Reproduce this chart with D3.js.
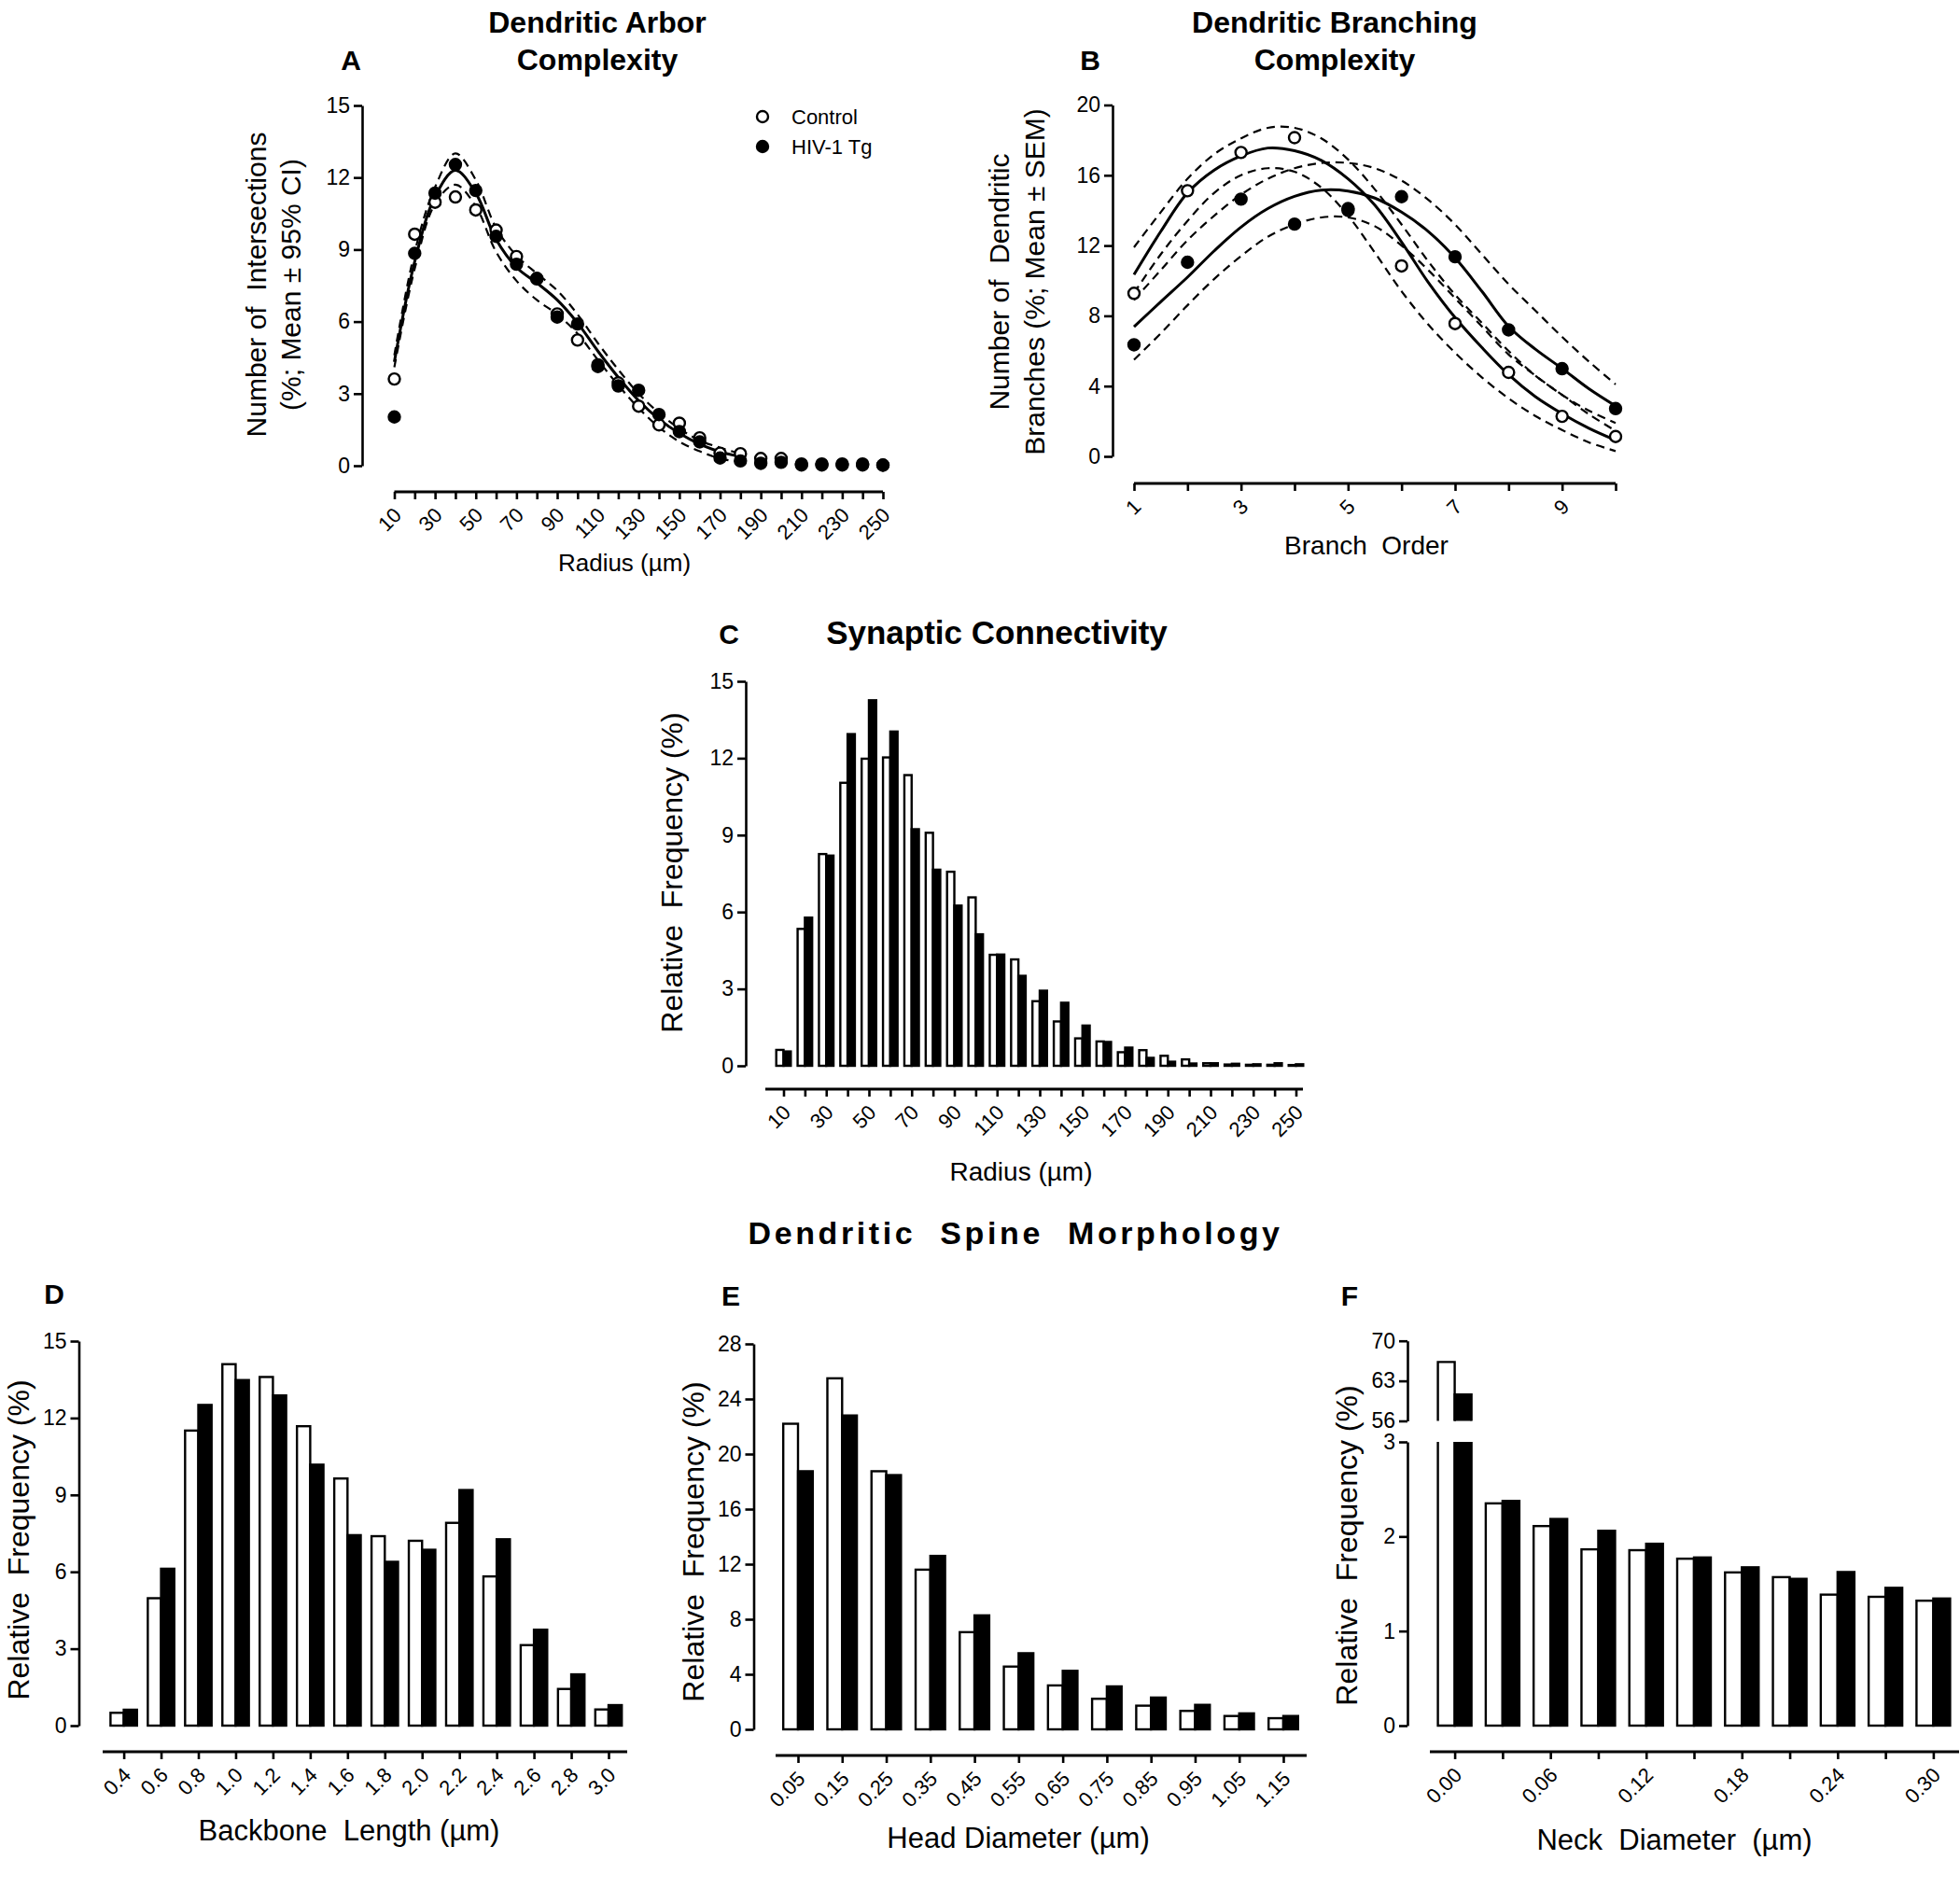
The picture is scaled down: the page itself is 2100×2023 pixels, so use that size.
<!DOCTYPE html>
<html><head><meta charset="utf-8">
<script src="https://cdn.jsdelivr.net/npm/d3@7"></script>
<style>body{margin:0;background:#fff}svg{display:block}</style>
</head><body><svg id="c" width="2100" height="2023"></svg>
<script>
// ---------- DATA ----------
// Panel A: Sholl analysis
const radiusA = [10,20,30,40,50,60,70,80,90,100,110,120,130,140,150,160,170,180,190,200,210,220,230,240,250];
const controlA = [3.61,9.64,10.97,11.19,10.65,9.81,8.71,7.8,6.32,5.23,4.2,3.45,2.48,1.70,1.77,1.16,0.52,0.5,0.3,0.3,0.03,0.03,0.03,0.03,0.02];
const hivA = [2.03,8.84,11.35,12.54,11.46,9.55,8.39,7.78,6.19,5.9,4.13,3.32,3.14,2.13,1.42,0.99,0.32,0.2,0.1,0.14,0.07,0.07,0.07,0.07,0.03];
const fitA = [[10,4.32],[20,8.5],[30,11.2],[40,12.3],[50,11.35],[60,9.42],[70,8.26],[80,7.61],[90,6.9],[100,5.94],[110,4.77],[120,3.68],[130,2.71],[140,1.94],[150,1.35],[160,0.9],[170,0.58],[180,0.38]];
const fitAUpper = [[10,4.6],[20,8.9],[30,11.6],[40,13.0],[50,11.9],[60,9.9],[70,8.75],[80,8.0],[90,7.3],[100,6.3],[110,5.1],[120,4.0],[130,3.0],[140,2.2],[150,1.55],[160,1.05],[170,0.75],[180,0.5]];
const fitALower = [[10,4.1],[20,8.2],[30,10.9],[40,11.7],[50,10.8],[60,8.9],[70,7.7],[80,6.9],[90,6.3],[100,5.5],[110,4.4],[120,3.35],[130,2.4],[140,1.6],[150,1.0],[160,0.6],[170,0.3],[180,0.15]];
const yTicksA = [0,3,6,9,12,15];

// Panel B: branch order
const branchOrder = [1,2,3,4,5,6,7,8,9,10];
const controlB = [9.28,15.12,17.3,18.14,14.0,10.84,7.56,4.78,2.28,1.13];
const hivB = [6.35,11.05,14.64,13.22,14.1,14.78,11.36,7.2,4.99,2.72];
const fitBControl = [[1,10.34],[1.5,12.8],[2,15.0],[2.5,16.3],[3,17.1],[3.5,17.55],[4,17.4],[4.5,16.85],[5,15.8],[5.5,14.3],[6,12.2],[6.5,9.9],[7,7.9],[7.5,6.2],[8,4.65],[8.5,3.4],[9,2.43],[9.5,1.6],[10,0.92]];
const fitBControlUp = [[1,11.9],[1.5,13.9],[2,15.8],[2.5,17.2],[3,18.1],[3.5,18.7],[4,18.7],[4.5,18.1],[5,16.9],[5.5,15.2],[6,13.2],[6.5,11.1],[7,9.2],[7.5,7.6],[8,6.0],[8.5,4.6],[9,3.5],[9.5,2.4],[10,1.45]];
const fitBControlLo = [[1,9.3],[1.5,11.5],[2,13.4],[2.5,15.0],[3,16.0],[3.5,16.4],[4,16.2],[4.5,15.3],[5,13.7],[5.5,11.6],[6,9.4],[6.5,7.5],[7,5.9],[7.5,4.5],[8,3.3],[8.5,2.3],[9,1.5],[9.5,0.8],[10,0.3]];
const fitBHiv = [[1,7.38],[1.5,8.8],[2,10.2],[2.5,11.7],[3,13.05],[3.5,14.1],[4,14.8],[4.5,15.15],[5,15.1],[5.5,14.7],[6,13.9],[6.5,12.8],[7,11.3],[7.5,9.4],[8,7.4],[8.5,6.1],[9,5.0],[9.5,3.85],[10,2.87]];
const fitBHivUp = [[1,8.9],[1.5,10.6],[2,12.3],[2.5,13.7],[3,14.9],[3.5,15.8],[4,16.4],[4.5,16.7],[5,16.7],[5.5,16.4],[6,15.7],[6.5,14.6],[7,13.2],[7.5,11.5],[8,9.8],[8.5,8.3],[9,6.8],[9.5,5.4],[10,4.1]];
const fitBHivLo = [[1,5.5],[1.5,7.0],[2,8.6],[2.5,10.1],[3,11.4],[3.5,12.5],[4,13.2],[4.5,13.6],[5,13.6],[5.5,13.1],[6,12.0],[6.5,10.6],[7,9.0],[7.5,7.4],[8,5.8],[8.5,4.6],[9,3.5],[9.5,2.6],[10,1.9]];
const yTicksB = [0,4,8,12,16,20];

// Panel C: synaptic connectivity
const radiusC = [10,20,30,40,50,60,70,80,90,100,110,120,130,140,150,160,170,180,190,200,210,220,230,240,250];
const controlC = [0.62,5.34,8.26,11.04,11.98,12.03,11.34,9.09,7.57,6.57,4.33,4.15,2.52,1.73,1.07,0.95,0.53,0.61,0.39,0.25,0.1,0.05,0.04,0.04,0.03];
const hivC = [0.56,5.78,8.2,12.94,14.26,13.04,9.23,7.65,6.25,5.13,4.34,3.51,2.93,2.46,1.57,0.93,0.71,0.31,0.16,0.09,0.1,0.08,0.06,0.1,0.06];
const yTicksC = [0,3,6,9,12,15];

// Panel D: backbone length
const backboneD = ["0.4","0.6","0.8","1.0","1.2","1.4","1.6","1.8","2.0","2.2","2.4","2.6","2.8","3.0"];
const controlD = [0.5,4.97,11.51,14.1,13.6,11.68,9.64,7.39,7.21,7.91,5.82,3.14,1.43,0.63];
const hivD = [0.62,6.12,12.51,13.48,12.88,10.18,7.43,6.39,6.86,9.19,7.27,3.74,2.0,0.8];
const yTicksD = [0,3,6,9,12,15];

// Panel E: head diameter
const headE = ["0.05","0.15","0.25","0.35","0.45","0.55","0.65","0.75","0.85","0.95","1.05","1.15"];
const controlE = [22.2,25.5,18.75,11.6,7.06,4.56,3.19,2.22,1.72,1.34,0.97,0.81];
const hivE = [18.75,22.8,18.47,12.6,8.28,5.53,4.25,3.12,2.31,1.78,1.16,0.97];
const yTicksE = [0,4,8,12,16,20,24,28];

// Panel F: neck diameter (broken axis)
const neckF = ["0.00","0.03","0.06","0.09","0.12","0.15","0.18","0.21","0.24","0.27","0.30"];
const controlF = [66.3,2.35,2.11,1.864,1.855,1.765,1.62,1.57,1.385,1.362,1.321];
const hivF = [60.6,2.376,2.185,2.06,1.923,1.778,1.674,1.552,1.624,1.457,1.344];
const yTicksFLow = [0,1,2,3];
const yTicksFHigh = [56,63,70];

// ---------- DRAWING ----------
const FONT = '"Liberation Sans", Arial, Helvetica, sans-serif';
const svg = d3.select("#c");
svg.append("rect").attr("width",2100).attr("height",2023).attr("fill","#fff");

function txt(x,y,s,size,opts={}){
  const t = svg.append("text").attr("x",x).attr("y",y).text(s)
    .attr("font-family",FONT).attr("font-size",size).attr("fill","#000")
    .attr("text-anchor",opts.anchor||"middle").style("white-space","pre");
  if(opts.bold) t.attr("font-weight","bold");
  if(opts.rot) t.attr("transform",`rotate(${opts.rot},${x},${y})`);
  if(opts.ls) t.attr("letter-spacing",opts.ls);
  return t;
}

function yAxis(x, scale, ticks){
  const g = svg.append("g").attr("transform",`translate(${x},0)`)
    .call(d3.axisLeft(scale).tickValues(ticks).tickSize(9).tickSizeOuter(0).tickPadding(4).tickFormat(d3.format("d")));
  g.attr("font-family",FONT).attr("font-size",23);
  g.select(".domain").attr("stroke-width",2.6);
  g.selectAll(".tick line").attr("stroke-width",2.6);
  return g;
}

function xAxis(y, scale, vals, isLabeled, ext, tickLen){
  const g = svg.append("g").attr("transform",`translate(0,${y})`)
    .call(d3.axisBottom(scale).tickValues(vals).tickSize(tickLen||8).tickSizeOuter(0)
      .tickFormat((d,i)=> isLabeled(i) ? d : ""));
  g.attr("font-family",FONT).attr("font-size",22);
  g.select(".domain").remove();
  g.append("line").attr("x1",ext[0]).attr("x2",ext[1]).attr("y1",0).attr("y2",0)
    .attr("stroke","#000").attr("stroke-width",2.8);
  g.selectAll(".tick line").attr("stroke-width",2.6);
  g.selectAll(".tick text").attr("y",0).attr("dy","0.35em")
    .attr("transform","translate(3,21) rotate(-45)").attr("text-anchor","end");
  return g;
}

function curve(data, xs, ys, dashed){
  const line = d3.line().x(d=>xs(d[0])).y(d=>ys(d[1])).curve(d3.curveCatmullRom.alpha(0.5));
  svg.append("path").attr("d",line(data)).attr("fill","none").attr("stroke","#000")
    .attr("stroke-width",dashed?2.2:3).attr("stroke-dasharray",dashed?"9,6":null);
}

function points(xv, yv, xs, ys, filled, r){
  svg.append("g").selectAll("circle").data(xv).join("circle")
    .attr("cx",(d)=>xs(d)).attr("cy",(d,i)=>ys(yv[i])).attr("r",r)
    .attr("fill",filled?"#000":"#fff").attr("stroke","#000").attr("stroke-width",2.4);
}

function bars(cats, ctrl, hiv, xs, ys, w){
  const g = svg.append("g");
  g.selectAll("rect.c").data(cats).join("rect").attr("class","c")
    .attr("x",d=>xs(d)-w).attr("width",w)
    .attr("y",(d,i)=>ys(ctrl[i])).attr("height",(d,i)=>ys(0)-ys(ctrl[i]))
    .attr("fill","#fff").attr("stroke","#000").attr("stroke-width",2.4);
  g.selectAll("rect.h").data(cats).join("rect").attr("class","h")
    .attr("x",d=>xs(d)).attr("width",w)
    .attr("y",(d,i)=>ys(hiv[i])).attr("height",(d,i)=>Math.max(0,ys(0)-ys(hiv[i])))
    .attr("fill","#000").attr("stroke","#000").attr("stroke-width",2.4);
}

// ===== Panel A =====
{
  const xs = d3.scaleLinear().domain([10,250]).range([422.5,946]);
  const ys = d3.scaleLinear().domain([0,15]).range([499,113]);
  txt(640,35,"Dendritic Arbor",32,{bold:true});
  txt(640,75,"Complexity",32,{bold:true});
  txt(376,75,"A",30,{bold:true});
  yAxis(388, ys, yTicksA);
  xAxis(527, xs, radiusA, i=>i%2===0, [xs(10),xs(250)], 8);
  txt(669,612,"Radius (\u00b5m)",26);
  txt(285,305,"Number of  Intersections",30,{rot:-90});
  txt(322,305,"(%; Mean \u00b1 95% CI)",30,{rot:-90});
  curve(fitAUpper,xs,ys,true);
  curve(fitALower,xs,ys,true);
  curve(fitA,xs,ys,false);
  points(radiusA,controlA,xs,ys,false,6);
  points(radiusA,hivA,xs,ys,true,6);
  // legend
  svg.append("circle").attr("cx",817).attr("cy",125).attr("r",6).attr("fill","#fff").attr("stroke","#000").attr("stroke-width",2.4);
  svg.append("circle").attr("cx",817).attr("cy",157).attr("r",6).attr("fill","#000").attr("stroke","#000").attr("stroke-width",2.4);
  txt(848,133,"Control",22,{anchor:"start"});
  txt(848,165,"HIV-1 Tg",22,{anchor:"start"});
}

// ===== Panel B =====
{
  const xs = d3.scaleLinear().domain([1,10]).range([1215,1731]);
  const ys = d3.scaleLinear().domain([0,20]).range([489,112.5]);
  txt(1430,35,"Dendritic Branching",32,{bold:true});
  txt(1430,75,"Complexity",32,{bold:true});
  txt(1168,75,"B",30,{bold:true});
  yAxis(1192, ys, yTicksB);
  xAxis(518, xs, branchOrder, i=>i%2===0, [xs(1),xs(10)], 8);
  txt(1464,594,"Branch  Order",28);
  txt(1081,302,"Number of  Dendritic",30,{rot:-90});
  txt(1119,302,"Branches (%; Mean \u00b1 SEM)",30,{rot:-90});
  [fitBControlUp,fitBControlLo,fitBHivUp,fitBHivLo].forEach(d=>curve(d,xs,ys,true));
  curve(fitBControl,xs,ys,false);
  curve(fitBHiv,xs,ys,false);
  points(branchOrder,controlB,xs,ys,false,6);
  points(branchOrder,hivB,xs,ys,true,6);
}

// ===== Panel C =====
{
  const xs = d3.scaleLinear().domain([10,250]).range([839.5,1388.5]);
  const ys = d3.scaleLinear().domain([0,15]).range([1142,730]);
  txt(1068,690,"Synaptic Connectivity",35,{bold:true});
  txt(781,690,"C",30,{bold:true});
  yAxis(799, ys, yTicksC);
  xAxis(1167, xs, radiusC, i=>i%2===0, [820,1396], 8);
  txt(1094,1265,"Radius (\u00b5m)",28);
  txt(731,935,"Relative  Frequency (%)",32,{rot:-90});
  bars(radiusC,controlC,hivC,xs,ys,7.8);
}

// ===== Section title =====
txt(1088,1333,"Dendritic  Spine  Morphology",34,{bold:true,ls:3.6});

// ===== Panel D =====
{
  const xs = d3.scalePoint().domain(backboneD).range([132.6,652]);
  const ys = d3.scaleLinear().domain([0,15]).range([1849,1437]);
  txt(58,1397,"D",30,{bold:true});
  yAxis(84.5, ys, yTicksD);
  xAxis(1877, xs, backboneD, ()=>true, [110,672], 8);
  txt(374,1972,"Backbone  Length (\u00b5m)",31);
  txt(31,1650,"Relative  Frequency (%)",32,{rot:-90});
  bars(backboneD,controlD,hivD,xs,ys,14.2);
}

// ===== Panel E =====
{
  const xs = d3.scalePoint().domain(headE).range([855,1375]);
  const ys = d3.scaleLinear().domain([0,28]).range([1853,1440]);
  txt(783,1399,"E",30,{bold:true});
  yAxis(807.5, ys, yTicksE);
  xAxis(1881, xs, headE, ()=>true, [831,1400], 8);
  txt(1091,1980,"Head Diameter (\u00b5m)",31);
  txt(754,1652,"Relative  Frequency (%)",32,{rot:-90});
  bars(headE,controlE,hivE,xs,ys,15.8);
}

// ===== Panel F (broken y axis) =====
{
  const xs = d3.scalePoint().domain(neckF).range([1558.6,2071.4]);
  const yLow = d3.scaleLinear().domain([0,3]).range([1849,1545]);
  const yHigh = d3.scaleLinear().domain([56,70]).range([1522.5,1436.7]);
  const w = 18;
  txt(1446,1399,"F",30,{bold:true});
  yAxis(1508, yLow, yTicksFLow);
  yAxis(1508, yHigh, yTicksFHigh);
  xAxis(1877, xs, neckF, i=>i%2===0, [1532,2099], 8);
  txt(1794,1982,"Neck  Diameter  (\u00b5m)",31);
  txt(1454,1656,"Relative  Frequency (%)",32,{rot:-90});
  const g = svg.append("g");
  neckF.forEach((c,i)=>{
    [[controlF[i],xs(c)-w,"#fff"],[hivF[i],xs(c),"#000"]].forEach(([v,x0,fill])=>{
      const x1 = x0+w;
      if(v<=3){
        g.append("rect").attr("x",x0).attr("width",w).attr("y",yLow(v)).attr("height",yLow(0)-yLow(v))
          .attr("fill",fill).attr("stroke","#000").attr("stroke-width",2.4);
      } else {
        g.append("rect").attr("x",x0).attr("width",w).attr("y",yLow(3)).attr("height",yLow(0)-yLow(3))
          .attr("fill",fill).attr("stroke","none");
        g.append("path").attr("d",`M${x0},${yLow(3)}V${yLow(0)}H${x1}V${yLow(3)}`)
          .attr("fill","none").attr("stroke","#000").attr("stroke-width",2.4);
        g.append("rect").attr("x",x0).attr("width",w).attr("y",yHigh(v)).attr("height",yHigh(56)-yHigh(v))
          .attr("fill",fill).attr("stroke","none");
        g.append("path").attr("d",`M${x0},${yHigh(56)}V${yHigh(v)}H${x1}V${yHigh(56)}`)
          .attr("fill","none").attr("stroke","#000").attr("stroke-width",2.4);
      }
    });
  });
}
</script></body></html>
